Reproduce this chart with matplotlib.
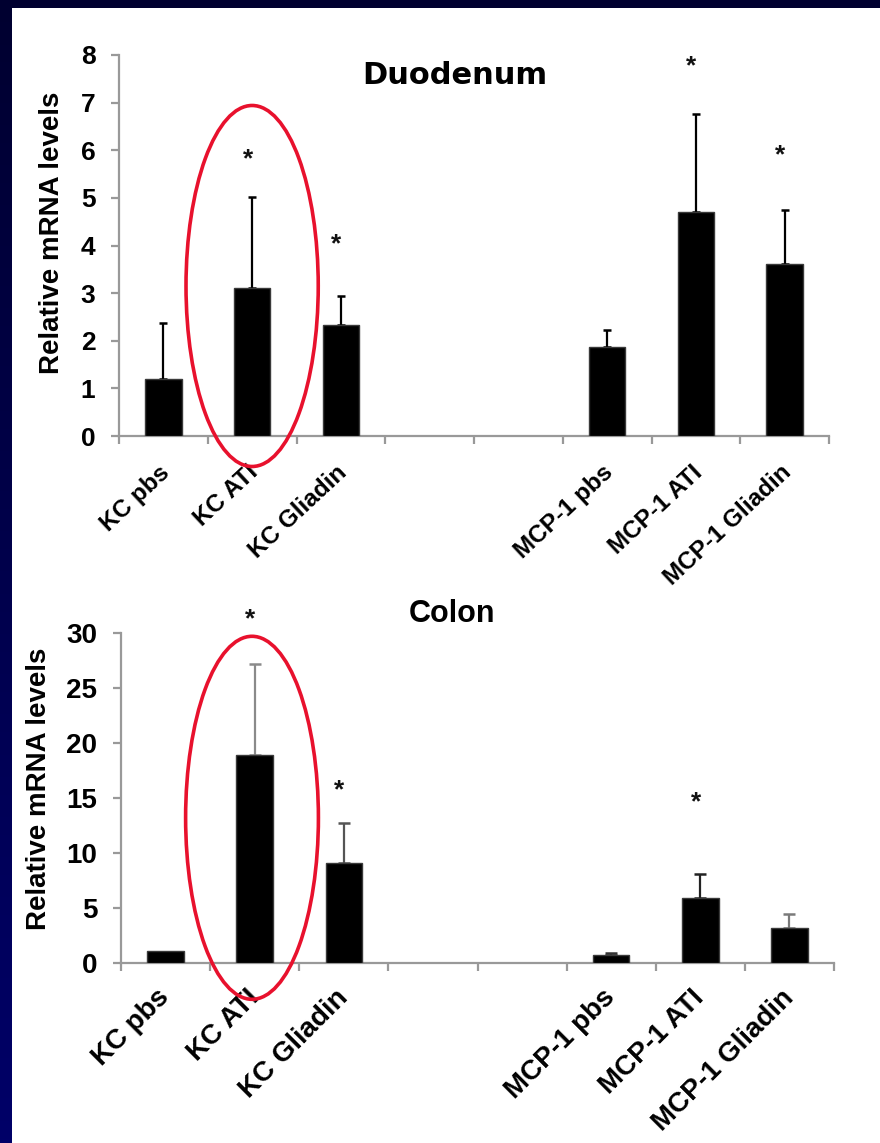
import numpy as np
import matplotlib
matplotlib.use("Agg")
import matplotlib.pyplot as plt
from matplotlib.patches import Ellipse, Rectangle
from matplotlib.colors import LinearSegmentedColormap
from matplotlib.transforms import ScaledTranslation

nan = np.nan
categories = ["KC pbs", "KC ATI", "KC Gliadin", "", "", "MCP-1 pbs", "MCP-1 ATI", "MCP-1 Gliadin"]

duo_values = [1.20, 3.11, 2.34, nan, nan, 1.87, 4.70, 3.62]
duo_upper = [2.38, 5.02, 2.94, nan, nan, 2.22, 6.77, 4.75]
duo_star = [nan, 5.80, 4.02, nan, nan, nan, 7.76, 5.90]
duo_yticks = [0, 1, 2, 3, 4, 5, 6, 7, 8]

col_values = [1.10, 18.9, 9.1, nan, nan, 0.69, 5.9, 3.2]
col_upper = [nan, 27.2, 12.7, nan, nan, 0.90, 8.1, 4.45]
col_star = [nan, 31.2, 15.7, nan, nan, nan, 14.6, nan]
col_yticks = [0, 5, 10, 15, 20, 25, 30]

col_err_colors = ["#000000", "#8a8a8a", "#555555", "#000000", "#000000", "#333333", "#222222", "#7a7a7a"]

W, H = 880, 1143
fig = plt.figure(figsize=(W / 100, H / 100), dpi=100)

# background: navy gradient frame + white slide area
bg = fig.add_axes([0, 0, 1, 1], zorder=-10)
cmap = LinearSegmentedColormap.from_list("navy", ["#000030", "#000068"])
bg.imshow(np.linspace(0, 1, 256).reshape(-1, 1), aspect="auto", cmap=cmap,
          extent=[0, 1, 0, 1], origin="upper")
bg.add_patch(Rectangle((12 / W, 0), 1 - 12 / W, 1 - 8 / H, color="white", lw=0))
bg.set_xlim(0, 1)
bg.set_ylim(0, 1)
bg.axis("off")

SP = "#999999"
LAB = "Liberation Sans"


def panel(rect, values, upper, stars, yticks, ymax, tick_fs, xlab_fs, rot, pad, capsize,
          err_colors, ell, shift):
    ax = fig.add_axes(rect)
    x = np.arange(len(categories))
    v = np.array(values, dtype=float)
    u = np.array(upper, dtype=float)
    s = np.array(stars, dtype=float)
    m = ~np.isnan(v)
    ax.bar(x[m], v[m], width=0.41, color="black", edgecolor="#3a3a3a", lw=1, zorder=3)
    for i in range(len(x)):
        if np.isnan(u[i]):
            continue
        _, caps, lines = ax.errorbar([x[i]], [v[i]], yerr=[[0], [u[i] - v[i]]], fmt="none",
                                     ecolor=err_colors[i], elinewidth=1.6, capsize=capsize,
                                     capthick=1.8, zorder=2)
        for c in caps:
            c.set_color("black")
    for i in range(len(x)):
        if not np.isnan(s[i]):
            ax.text(x[i] - 0.05, s[i], "*", ha="center", va="center", fontsize=19,
                    fontweight="bold", family=LAB, color="#111111", clip_on=False,
                    transform=ax.transData)
    ax.set_xlim(-0.5, len(categories) - 0.5)
    ax.set_ylim(0, ymax)
    for sp in ["top", "right"]:
        ax.spines[sp].set_visible(False)
    for sp in ["left", "bottom"]:
        ax.spines[sp].set_color(SP)
        ax.spines[sp].set_linewidth(1.6)
    ax.set_yticks(yticks)
    ax.set_yticklabels([str(t) for t in yticks], fontsize=tick_fs, fontweight="bold", family=LAB)
    ax.tick_params(axis="y", length=6, width=1.6, color=SP, pad=11)
    ax.set_xticks(x)
    ax.set_xticklabels(categories, rotation=rot, ha="right", rotation_mode="anchor",
                       fontsize=xlab_fs, fontweight="bold", family=LAB)
    ax.set_xticks(np.arange(-0.5, len(categories)), minor=True)
    ax.tick_params(axis="x", which="major", length=0, pad=pad)
    ax.tick_params(axis="x", which="minor", length=6, width=1.6, color=SP)
    off = ScaledTranslation(shift[0] / 100, shift[1] / 100, fig.dpi_scale_trans)
    for lab in ax.get_xticklabels():
        lab.set_transform(lab.get_transform() + off)
    ax.patch.set_alpha(0)
    e = Ellipse(ell[0], ell[1], ell[2], fill=False, edgecolor="#e8112d", lw=2.6,
                clip_on=False, zorder=5)
    ax.add_patch(e)
    return ax


ax1 = panel([119 / W, 1 - 436 / H, 710 / W, 381 / H], duo_values, duo_upper, duo_star,
            duo_yticks, 8, 19, 17.5, 43, 20, 3.0, ["#000000"] * 8,
            ((1.0, 3.15), 1.49, 7.58), (-5, 3))
ax2 = panel([121 / W, 1 - 963 / H, 713 / W, 330 / H], col_values, col_upper, col_star,
            col_yticks, 30, 20, 20, 45, 22, 4.0, col_err_colors,
            ((0.97, 13.2), 1.49, 33.0), (-9, 9))

fig.text(455 / W, 1 - 75 / H, "Duodenum", ha="center", va="center", fontsize=22,
         fontweight="bold", family="DejaVu Sans")
fig.text(452 / W, 1 - 614 / H, "Colon", ha="center", va="center", fontsize=22,
         fontweight="bold", family=LAB)
fig.text(52 / W, 1 - 233 / H, "Relative mRNA levels", ha="center", va="center",
         rotation=90, fontsize=20, fontweight="bold", family=LAB)
fig.text(39 / W, 1 - 789 / H, "Relative mRNA levels", ha="center", va="center",
         rotation=90, fontsize=20, fontweight="bold", family=LAB)

fig.savefig("out.png", dpi=100)
